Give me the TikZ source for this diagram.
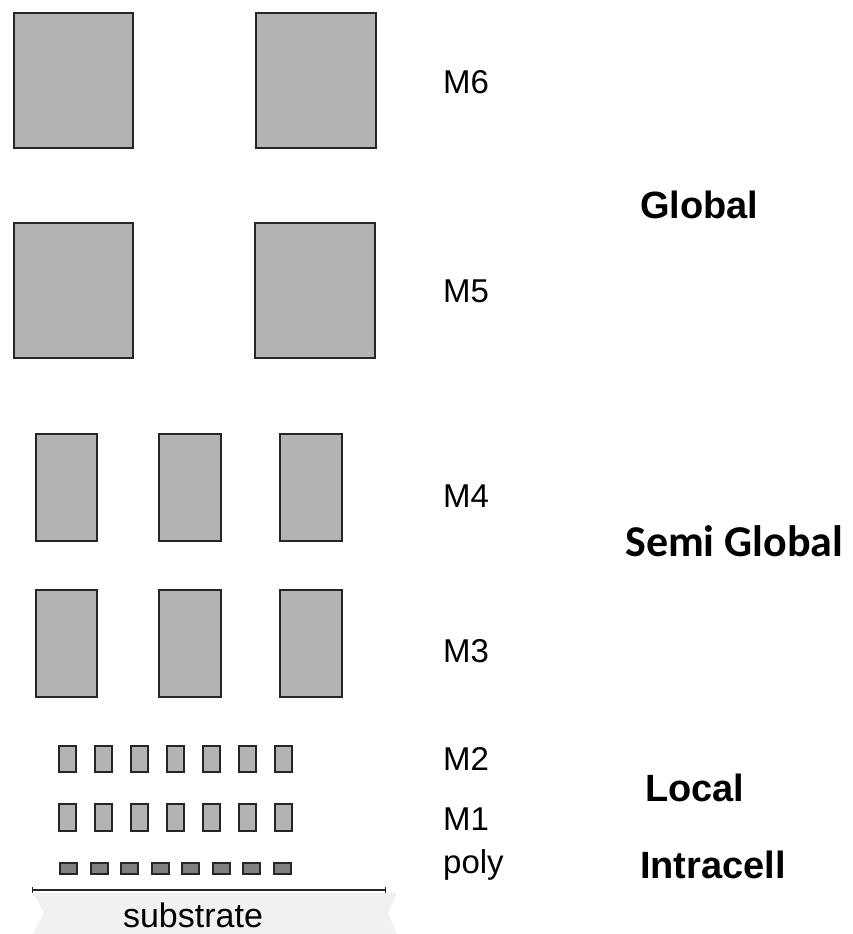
\documentclass[tikz,border=0pt]{standalone}
\usepackage{fontspec}
\setmainfont{Liberation Sans}
\newfontfamily\calfont{Carlito}
\definecolor{metal}{HTML}{B3B3B3}
\definecolor{polyfill}{HTML}{7F7F7F}
\definecolor{edge}{HTML}{262626}
\definecolor{subfill}{HTML}{F1F1F1}
\begin{document}
\begin{tikzpicture}[x=1pt,y=-1pt,
  wire/.style={draw=edge,fill=metal,line width=2pt},
  polywire/.style={draw=edge,fill=polyfill,line width=2pt},
  layer/.style={anchor=base west,inner sep=0pt,font=\fontsize{33}{40}\selectfont},
  level/.style={anchor=base west,inner sep=0pt,font=\fontsize{38}{46}\selectfont\bfseries},
  semilevel/.style={anchor=base west,inner sep=0pt,font=\fontsize{44}{52}\selectfont\calfont\bfseries}]
\useasboundingbox (0,0) rectangle (852,934);

% substrate band and surface line
\fill[subfill] (33,893) -- (397,893) -- (388,913) -- (397,934) -- (33,934) -- (44,913) -- cycle;
\draw[edge,line width=1.5pt] (32,890) -- (385,890);
\draw[edge,line width=1pt] (32,887) -- (32,893) (385,887) -- (385,893);
\node[anchor=base,inner sep=0pt,font=\fontsize{34}{40}\selectfont] (substrate) at (193,927) {substrate};

% M6 and M5: two wide wires each
\draw[wire] (13.5,13) rectangle (133,148);
\draw[wire] (256,13) rectangle (376,148);
\draw[wire] (13.5,223) rectangle (133,358);
\draw[wire] (255,223) rectangle (375,358);

% M4 and M3: three wires each
\foreach \xa/\xb in {35.7/96.7, 159.3/220.7, 280/342.3} {
  \draw[wire] (\xa,434.3) rectangle (\xb,541);
  \draw[wire] (\xa,590) rectangle (\xb,696.7);
}

% M2 and M1: seven narrow wires each
\foreach \i in {0,...,6} {
  \draw[wire] ({58.5+36.1*\i},745.5) rectangle ({75.5+36.1*\i},772);
  \draw[wire] ({58.5+36.1*\i},803.5) rectangle ({75.5+36.1*\i},831);
}

% poly: eight short gates
\foreach \i in {0,...,7} {
  \draw[polywire] ({60+30.5*\i},862.5) rectangle ({77+30.5*\i},873.5);
}

% layer names
\node[layer] (m6) at (443,93) {M6};
\node[layer] (m5) at (443,302) {M5};
\node[layer] (m4) at (443,507) {M4};
\node[layer] (m3) at (443,662) {M3};
\node[layer] (m2) at (443,770) {M2};
\node[layer] (m1) at (443,830) {M1};
\node[layer] (poly) at (443,873) {poly};

% interconnect levels
\node[level] (global) at (640,218) {Global};
\node[semilevel] (semiglobal) at (625,556) {Semi Global};
\node[level] (local) at (645,801) {Local};
\node[level] (intracell) at (640,878) {Intracell};
\end{tikzpicture}
\end{document}
